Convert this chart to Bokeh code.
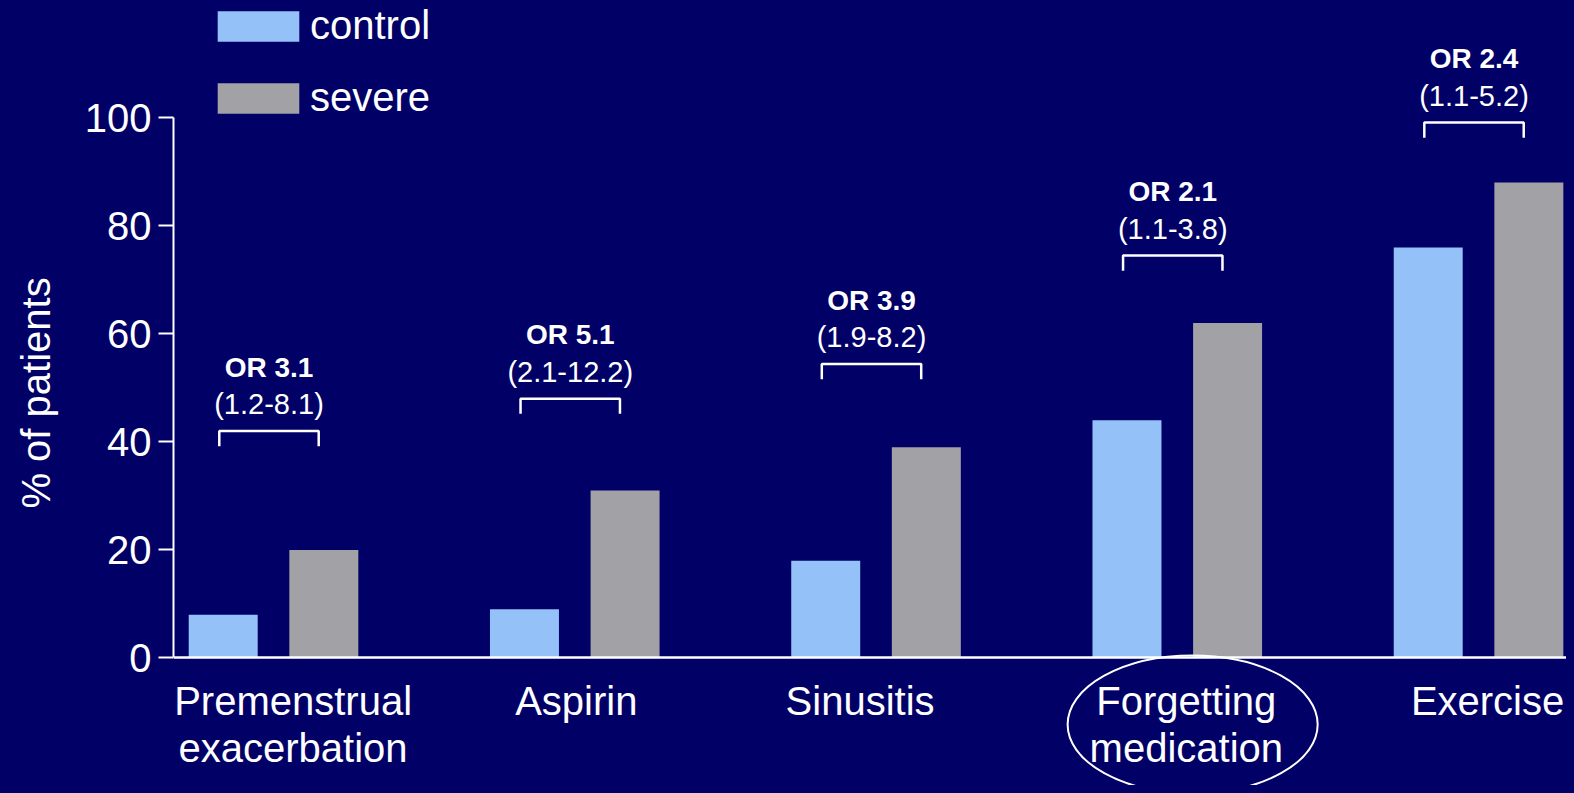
from bokeh.plotting import figure
from bokeh.models import (Range1d, FixedTicker, ColumnDataSource, Legend, LegendItem,
                          GlobalInlineStyleSheet)
from bokeh.transform import dodge
from bokeh.core.properties import value
from bokeh.embed import file_html
from bokeh.resources import INLINE

# ---- data ----
categories = ["Premenstrual\nexacerbation", "Aspirin", "Sinusitis",
              "Forgetting\nmedication", "Exercise"]
control = [8, 9, 18, 44, 76]
severe = [20, 31, 39, 62, 88]
odds_ratio = ["OR 3.1", "OR 5.1", "OR 3.9", "OR 2.1", "OR 2.4"]
conf_int = ["(1.2-8.1)", "(2.1-12.2)", "(1.9-8.2)", "(1.1-3.8)", "(1.1-5.2)"]
y_ticks = [0, 20, 40, 60, 80, 100]
series_names = ["control", "severe"]

# ---- layout (positions only) ----
bracket_y = [42, 48, 54.4, 74.5, 99.1]          # bracket heights, axis units
label_x = [0.065, 1.005, 1.947, 3.030, 4.030]   # category label centres
highlight_index = 3

BG = "#000066"
C_CONTROL = "#94C1F8"
C_SEVERE = "#A2A1A6"
FONT = "Liberation Sans"

xs_idx = list(range(len(categories)))
src = ColumnDataSource(dict(x=xs_idx, control=control, severe=severe,
                            orr=odds_ratio, ci=conf_int, by=bracket_y))

p = figure(width=1566, height=785, output_backend="svg", toolbar_location=None,
           x_range=Range1d(-0.332, 4.292), y_range=Range1d(-23.6, 121.7),
           min_border_left=173, min_border_right=0, min_border_top=0,
           min_border_bottom=0,
           background_fill_color=BG, border_fill_color=BG,
           outline_line_color=None,
           stylesheets=[GlobalInlineStyleSheet(css="body{background:#000066;}")])
p.grid.visible = False

r1 = p.vbar(x=dodge("x", -0.167, range=p.x_range), top="control", width=0.229,
            source=src, fill_color=C_CONTROL, line_color=None)
r2 = p.vbar(x=dodge("x", 0.167, range=p.x_range), top="severe", width=0.229,
            source=src, fill_color=C_SEVERE, line_color=None)

# brackets
bx = [[i - 0.18, i - 0.18, i + 0.15, i + 0.15] for i in xs_idx]
byy = [[b - 2.8, b, b, b - 2.8] for b in bracket_y]
p.multi_line(xs=bx, ys=byy, line_color="white", line_width=2.5)

p.text(x=dodge("x", -0.015, range=p.x_range), y="by", text="orr", source=src,
       y_offset=-64, text_align="center", text_baseline="alphabetic",
       text_color="white", text_font=value(FONT), text_font_style="bold",
       text_font_size="28px")
p.text(x=dodge("x", -0.015, range=p.x_range), y="by", text="ci", source=src,
       y_offset=-27, text_align="center", text_baseline="alphabetic",
       text_color="white", text_font=value(FONT), text_font_size="29px")

# highlight ellipse around one category label
p.ellipse(x=[highlight_index + 0.051], y=[-12.3], width=[0.83], height=[25.5],
          fill_color=None, line_color="white", line_width=2)

# axes
yax = p.yaxis[0]
yax.ticker = FixedTicker(ticks=y_ticks)
yax.bounds = (0, 100)
yax.axis_line_color = "white"
yax.axis_line_width = 2
yax.major_tick_line_color = "white"
yax.major_tick_line_width = 2
yax.major_tick_out = 15
yax.major_tick_in = 0
yax.minor_tick_line_color = None
yax.major_label_text_color = "white"
yax.major_label_text_font = FONT
yax.major_label_text_font_size = "40px"
yax.major_label_standoff = 7
yax.axis_label = "% of patients"
yax.axis_label_text_color = "white"
yax.axis_label_text_font = FONT
yax.axis_label_text_font_size = "40px"
yax.axis_label_text_font_style = "normal"
yax.axis_label_standoff = 24

xax = p.xaxis[0]
xax.fixed_location = 0
xax.ticker = FixedTicker(ticks=label_x)
xax.major_label_overrides = {lx: c for lx, c in zip(label_x, categories)}
xax.axis_line_color = "white"
xax.axis_line_width = 2.5
xax.major_tick_line_color = None
xax.major_tick_out = 0
xax.major_tick_in = 0
xax.minor_tick_line_color = None
xax.major_label_text_color = "white"
xax.major_label_text_font = FONT
xax.major_label_text_font_size = "40px"
xax.major_label_text_line_height = 1.06
xax.major_label_standoff = 21

legend = Legend(items=[LegendItem(label=series_names[0], renderers=[r1]),
                       LegendItem(label=series_names[1], renderers=[r2])],
                location=(34, 659), padding=0, margin=0, spacing=15,
                glyph_width=102, glyph_height=38, label_height=57,
                label_standoff=1,
                label_text_font=FONT, label_text_font_size="40px",
                label_text_color="white", background_fill_alpha=0,
                border_line_alpha=0)
p.add_layout(legend)

open("out.html", "w").write(file_html(p, INLINE))
